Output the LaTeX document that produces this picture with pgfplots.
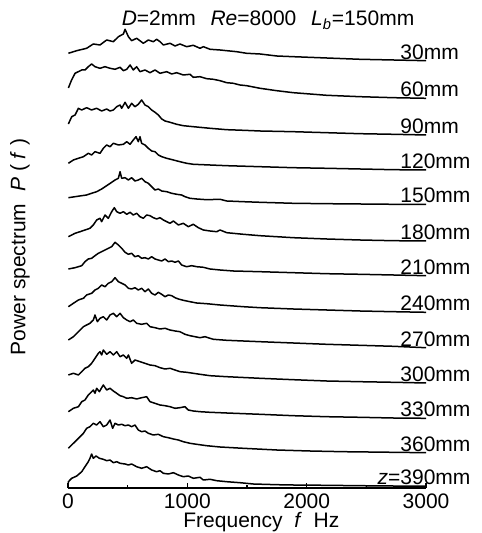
\documentclass[border=0pt]{standalone}
\usepackage{fontspec}
\setmainfont{Liberation Sans}
\usepackage{pgfplots}
\pgfplotsset{compat=1.18}

\begin{document}
\fontsize{10.5}{12.6}\selectfont
\begin{tikzpicture}[font=\fontsize{10.5}{12.6}\selectfont]
\begin{axis}[
  scale only axis, width=179pt, height=230pt,
  xmin=0, xmax=3000, ymin=0, ymax=460,
  axis x line*=bottom, axis y line=none, ytick=\empty,
  xtick={0,1000,2000,3000}, minor xtick={500,1500,2500},
  tick align=inside, major tick length=2.6pt, minor tick length=1.4pt,
  x axis line style={line width=1pt},
  every tick/.style={black, line width=0.6pt},
  scaled x ticks=false,
  xticklabel style={yshift=1pt, /pgf/number format/assume math mode=true, /pgf/number format/1000 sep={}},
  xlabel={Frequency~~\textit{f}~~Hz},
  xlabel style={at={(axis description cs:0.54,-0.086)}, anchor=base, inner sep=0pt},
  clip=false,
  every axis plot post/.style={black, solid, line width=0.75pt, mark=none, line join=round},
]
% z = 30 mm
\addplot coordinates {(3,434.7) (73,437.3) (156,439.7) (212,444) (268,443) (324,448) (380,446.3) (422,451.3) (464,454) (478,458.7) (506,451.3) (533,447.3) (575,449.7) (631,444.7) (673,448) (715,446.3) (743,448.7) (771,446.3) (799,443) (855,444.7) (897,442) (938,444) (994,441.3) (1050,442.7) (1106,439.7) (1134,441.3) (1190,438.7) (1274,438) (1330,437.3) (1413,436.3) (1497,434.7) (1609,434) (1749,432) (1888,431.3) (2167,430) (2447,428.7) (2726,428) (3000,427.3)};
% z = 60 mm
\addplot coordinates {(3,400) (30,408) (59,414.7) (115,418) (142,418) (170,421.3) (198,424) (226,421.3) (268,419.7) (310,421.3) (352,419.7) (394,418.7) (436,420.7) (464,417.3) (492,418.7) (520,423) (547,418) (575,421.3) (603,416.3) (645,418) (687,415.3) (729,418) (771,414.7) (827,416.3) (869,414) (911,415.3) (966,413) (1022,413.7) (1050,410.7) (1106,411.3) (1162,409.3) (1218,408.7) (1274,407.3) (1330,405.3) (1385,404.7) (1441,403) (1497,402.3) (1609,399.7) (1749,397.3) (1888,395.3) (2028,394) (2167,392.7) (2447,391.3) (2726,390.3) (3000,389.7)};
% z = 90 mm
\addplot coordinates {(3,364) (31,371.3) (59,373) (87,379.7) (115,378) (156,380.3) (198,378) (240,379.7) (282,377) (324,379) (352,377) (380,378) (408,381.3) (436,383) (450,379.7) (478,385.7) (506,379.7) (533,384.7) (561,381.3) (589,383.7) (617,388) (645,383) (673,381.3) (701,378) (729,375.7) (757,373) (785,369) (813,367) (855,365.7) (911,363.7) (966,362.3) (1050,361.3) (1190,359.7) (1330,358.3) (1469,357.7) (1609,357) (1888,356.3) (2167,355.3) (2447,354.3) (2726,353.7) (3000,353)};
% z = 120 mm
\addplot coordinates {(3,324.7) (45,328) (87,329.7) (129,331.3) (170,334.7) (198,333) (226,336.3) (268,334.7) (296,339.7) (324,343) (352,341.3) (380,344.7) (422,343) (464,343.7) (492,346.3) (520,343.7) (547,348) (570,351.3) (589,346.3) (603,351.3) (617,344.7) (645,343) (673,339.7) (701,337) (729,336.3) (757,333) (785,331.3) (827,329.7) (883,328) (938,326.3) (994,324.7) (1050,323.7) (1190,323) (1330,322.3) (1609,321.3) (1888,320.3) (2167,319.7) (2447,319) (2726,318.3) (3000,318)};
% z = 150 mm
\addplot coordinates {(3,290.3) (59,291.3) (115,292.3) (156,293) (198,294.7) (240,296.3) (282,299) (324,302.3) (366,305.7) (394,308) (422,309.7) (436,316.3) (450,309.7) (478,310.3) (506,308) (533,310.3) (561,307) (589,308) (617,309.7) (645,306.3) (673,304.7) (701,301.3) (729,298) (757,299) (785,297) (827,296.3) (869,294.7) (911,293.7) (952,293) (980,291.3) (1022,289.7) (1078,289) (1162,288.3) (1274,288.7) (1330,287) (1469,286.3) (1609,285.7) (1888,284.7) (2167,284.3) (2447,284) (2726,283.7) (3000,283.7)};
% z = 180 mm
\addplot coordinates {(3,251.3) (59,254.7) (101,256.3) (142,258) (184,259.7) (212,263) (240,268) (268,269.7) (282,266.3) (310,273) (338,269.7) (366,276.3) (388,280.3) (408,276.3) (436,274.7) (464,276.3) (492,273.7) (520,275.7) (547,273) (575,274.7) (603,271.3) (631,269.7) (659,273) (687,272.3) (715,270.3) (743,269) (771,270.3) (799,268) (827,266.3) (855,264.7) (883,267) (925,263) (966,264.7) (1008,261.3) (1050,263.7) (1092,260.3) (1134,258) (1190,257) (1246,256.3) (1274,258) (1330,255.3) (1469,253.7) (1609,252.3) (1888,250.3) (2167,249) (2447,248) (2726,247.3) (3000,247)};
% z = 210 mm
\addplot coordinates {(3,219) (59,220.3) (115,222.3) (142,226.3) (170,229) (198,229.7) (226,232.3) (254,234.7) (282,236.3) (310,238) (338,239.7) (366,241.3) (394,245.7) (422,243) (450,239.7) (478,235.7) (506,233.7) (533,234.7) (561,231.3) (589,232.3) (617,229.7) (645,230.3) (673,229) (701,231.3) (729,229) (757,228) (785,227) (813,229) (841,226.3) (869,227) (897,225.7) (925,227) (952,223) (994,221.3) (1036,222.3) (1078,221.3) (1134,220.7) (1190,219) (1274,218) (1385,217) (1609,216.3) (1888,215.3) (2167,214.3) (2447,213.7) (2726,213) (3000,212.3)};
% z = 240 mm
\addplot coordinates {(3,181.3) (45,184.7) (87,188) (129,189.7) (156,193) (198,194.7) (226,198) (254,199.7) (282,203) (310,201.3) (338,204.7) (366,206.3) (394,210.3) (422,206.3) (450,204.7) (478,203) (506,199.7) (533,199) (561,200.3) (589,198) (617,199.7) (645,196.3) (673,199) (701,194.7) (729,193) (757,195.7) (785,193.7) (813,191.3) (841,193) (869,192.3) (897,190.3) (925,189) (966,187.7) (1022,186.3) (1078,185) (1162,184.3) (1274,183) (1469,181.3) (1609,180.3) (1888,179) (2167,178) (2447,177) (2726,176.3) (3000,175.7)};
% z = 270 mm
\addplot coordinates {(3,148) (45,151.3) (87,156.3) (129,161.3) (156,163) (184,164.7) (212,168) (226,173) (246,166.3) (268,169.7) (296,171.3) (324,168) (352,173) (380,174.7) (408,171.3) (436,174.7) (464,170.3) (492,168) (520,166.3) (547,168) (575,164.7) (617,163.7) (659,164.7) (687,161.3) (729,160.3) (771,159) (813,159.7) (855,158) (897,157) (938,156.3) (980,153.7) (1022,152.3) (1064,151.3) (1106,150.3) (1148,151.3) (1190,149.7) (1218,148.7) (1330,147.7) (1469,147) (1609,146.3) (1888,145) (2167,143.7) (2447,142.7) (2726,141.7) (3000,140.3)};
% z = 300 mm
\addplot coordinates {(3,113) (45,114.7) (87,113) (115,116.3) (142,119.7) (170,121.3) (198,124.7) (226,129.7) (254,134.7) (268,136.3) (282,133) (296,138) (324,133.7) (352,136.3) (380,133) (408,136.3) (436,131.3) (464,133) (492,129.7) (506,133) (533,124.7) (561,128) (603,126.3) (645,124.7) (687,123) (729,122.3) (771,120.3) (813,119) (855,119.7) (897,118) (938,116.3) (994,115.7) (1050,114.7) (1106,113.7) (1190,112.3) (1330,111.3) (1609,109.7) (1888,108.3) (2167,107) (2447,106.3) (2726,105.7) (3000,105)};
% z = 330 mm
\addplot coordinates {(3,76.3) (45,79.7) (87,81.3) (115,86.3) (142,88) (170,93) (198,96.3) (212,98) (226,94.7) (240,99.7) (263,96.3) (282,100.3) (296,103) (324,98) (352,99.7) (380,97) (408,94.7) (436,92.3) (464,91.3) (492,89.7) (533,90.3) (575,89) (617,90.3) (659,91.3) (687,86.3) (729,84.7) (771,83) (813,82.3) (855,81.3) (897,79.7) (938,80.3) (980,81.3) (1008,78) (1050,77) (1106,76.3) (1190,75.7) (1330,75) (1609,73.7) (1888,72.3) (2167,71.3) (2447,70.7) (2726,70) (3000,69.7)};
% z = 360 mm
\addplot coordinates {(3,39.7) (45,44.7) (87,49.7) (129,54.7) (156,59.7) (184,61.3) (212,64.7) (240,63) (268,66.3) (296,61.3) (324,63) (352,68) (374,59.7) (394,64.7) (422,63) (450,63.7) (478,62.3) (506,63) (533,61.3) (561,63) (589,58) (617,56.3) (645,57) (673,54.7) (715,53) (757,53.7) (799,51.3) (841,50.3) (883,49) (925,48) (966,46.3) (1022,44.7) (1078,43.7) (1162,42.3) (1274,41) (1469,39.7) (1749,38) (2028,37) (2307,36.3) (2726,35.7) (3000,35.3)};
% z = 390 mm
\addplot coordinates {(0,2) (3,6.3) (31,9.7) (73,12) (115,16.3) (142,21.3) (170,26.3) (184,29.7) (198,34) (212,29.7) (235,32) (263,29.7) (296,28.7) (324,27.3) (352,28) (380,25.3) (408,26.3) (436,24.7) (478,24) (506,23) (533,24) (575,21.3) (617,19.7) (659,21.3) (701,18) (743,16.3) (771,17.3) (799,14.7) (841,14) (883,15.3) (925,13) (966,11.3) (1008,12) (1050,9.7) (1106,10.7) (1134,8) (1190,8.7) (1246,7.3) (1330,6.3) (1441,5.3) (1553,4) (1749,3.3) (1888,3) (2167,2.7) (2447,2.3) (2726,2) (3000,2)};

\begin{scope}[every node/.style={anchor=base west, inner sep=0pt}]
\node at (axis cs:2782,428.8) {30mm};
\node at (axis cs:2782,391.2) {60mm};
\node at (axis cs:2782,354.5) {90mm};
\node at (axis cs:2782,319.5) {120mm};
\node at (axis cs:2782,285.2) {150mm};
\node at (axis cs:2782,248.5) {180mm};
\node at (axis cs:2782,213.8) {210mm};
\node at (axis cs:2782,177.2) {240mm};
\node at (axis cs:2782,141.8) {270mm};
\node at (axis cs:2782,106.5) {300mm};
\node at (axis cs:2782,71.2) {330mm};
\node at (axis cs:2782,36.8) {360mm};
\node at (axis cs:2782,3.5) {\llap{\textit{z}=}390mm};
\end{scope}
\node[anchor=base, inner sep=0pt] at (axis cs:1676,462) {\textit{D}=2mm\hspace{0.7em}\textit{Re}=8000\hspace{0.7em}\textit{L}\textsubscript{\textit{b}}=150mm};
\node[rotate=90, anchor=center, inner sep=0pt] at (axis description cs:-0.134,0.524) {Power spectrum~~\textit{P} ( \textit{f} )};
\coordinate (bbl) at (axis cs:-570,-45);
\coordinate (btr) at (axis cs:3461,488);
\end{axis}
\path (bbl) rectangle (btr);
\end{tikzpicture}
\end{document}
